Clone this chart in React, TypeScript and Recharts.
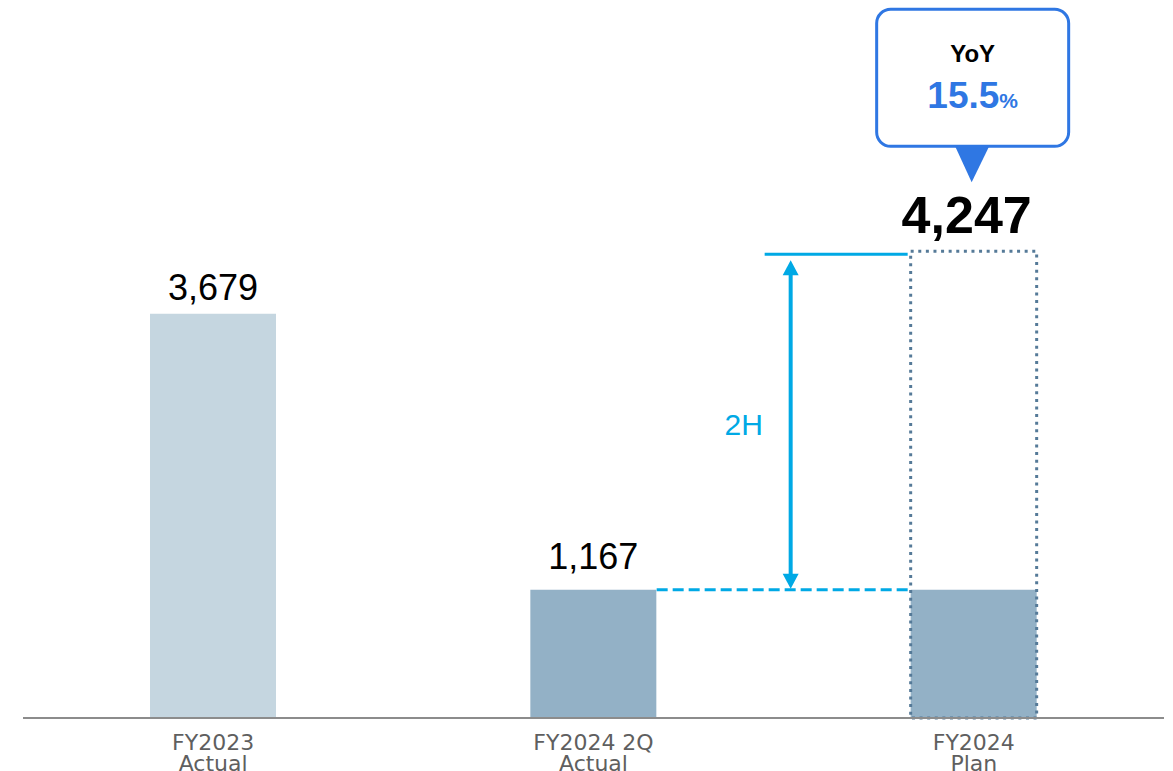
import { Bar, BarChart, Cell, LabelList, XAxis, YAxis } from "recharts"

const categories = ["FY2023|Actual", "FY2024 2Q|Actual", "FY2024|Plan"]
const resultValues = [3679, 1167, 1167]
const planValues: (number | null)[] = [null, null, 4247]
const barColors = ["#c5d6e0", "#93b1c6", "#93b1c6"]
const yoyText = "15.5"
const halfLabel = "2H"

const data = categories.map((name, i) => ({
  name,
  value: resultValues[i],
  plan: planValues[i],
}))

const W = 1173
const H = 771
const margin = { top: 18, right: 9, left: 23, bottom: 23 }
const CYAN = "#00a9e5"
const BLUE = "#2f77e3"
const NUM_FONT = "'Liberation Sans', Arial, sans-serif"

const fmt = (v: number) => new Intl.NumberFormat("en-US").format(v)

function CategoryTick({ x, y, payload }: any) {
  const [a, b] = String(payload.value).split("|")
  return (
    <g>
      <text x={x} y={y + 24} textAnchor="middle" fill="#5f5f5f" fontSize={22} fontFamily="'DejaVu Sans', sans-serif">
        {a}
      </text>
      <text x={x} y={y + 45} textAnchor="middle" fill="#5f5f5f" fontSize={22} fontFamily="'DejaVu Sans', sans-serif">
        {b}
      </text>
    </g>
  )
}

function ValueLabel({ x, y, width, value, index }: any) {
  if (index > 1) return null
  // gap between number and bar top differs a bit in the original
  const gap = index === 0 ? 14 : 21
  return (
    <text x={x + width / 2} y={y - gap} textAnchor="middle" fill="#000" fontSize={36} fontFamily={NUM_FONT}>
      {fmt(value)}
    </text>
  )
}

function PlanShape(props: any) {
  const { x, y, width, height, payload } = props
  if (payload?.plan == null || !height) return <g />
  const cx = x + width / 2
  const bottom = y + height
  const innerTop = bottom - (height * payload.value) / payload.plan
  const arrowX = x - 120
  return (
    <g>
      {/* dotted plan outline */}
      <rect
        x={x}
        y={y}
        width={width}
        height={height}
        fill="none"
        stroke="#557a98"
        strokeWidth={3}
        strokeDasharray="3 4.6"
      />
      {/* 2H bracket */}
      <line x1={x - 254} x2={x - 3} y1={innerTop} y2={innerTop} stroke={CYAN} strokeWidth={3} strokeDasharray="11 5" />
      <line x1={x - 146} x2={x - 3} y1={y + 3} y2={y + 3} stroke={CYAN} strokeWidth={3} />
      <line x1={arrowX} x2={arrowX} y1={y + 20} y2={innerTop - 12} stroke={CYAN} strokeWidth={4} />
      <polygon points={`${arrowX},${y + 9} ${arrowX - 8},${y + 24} ${arrowX + 8},${y + 24}`} fill={CYAN} />
      <polygon
        points={`${arrowX},${innerTop - 1} ${arrowX - 8},${innerTop - 16} ${arrowX + 8},${innerTop - 16}`}
        fill={CYAN}
      />
      <text x={x - 167} y={(y + innerTop) / 2 + 14} textAnchor="middle" fill={CYAN} fontSize={30} fontFamily={NUM_FONT}>
        {halfLabel}
      </text>
      {/* plan total */}
      <text x={cx - 7} y={y - 18} textAnchor="middle" fill="#000" fontSize={52} fontWeight="bold" fontFamily={NUM_FONT}>
        {fmt(payload.plan)}
      </text>
      {/* YoY callout */}
      <rect x={cx - 97} y={y - 242} width={192} height={137} rx={14} fill="#fff" stroke={BLUE} strokeWidth={3} />
      <polygon points={`${cx - 19},${y - 106} ${cx + 16},${y - 106} ${cx - 2},${y - 69}`} fill={BLUE} />
      <text x={cx - 1} y={y - 189} textAnchor="middle" fill="#000" fontSize={24} fontWeight="bold" fontFamily={NUM_FONT}>
        YoY
      </text>
      <text x={cx - 1} y={y - 143} textAnchor="middle" fontWeight="bold" fontFamily={NUM_FONT} fill={BLUE}>
        <tspan fontSize={37}>{yoyText}</tspan>
        <tspan fontSize={21}>%</tspan>
      </text>
    </g>
  )
}

export default function App() {
  return (
    <div style={{ position: "fixed", left: 0, top: 0, width: W, height: H, background: "#fff" }}>
      <BarChart width={W} height={H} data={data} margin={margin} barSize={126}>
        <XAxis
          dataKey="name"
          xAxisId="main"
          height={30}
          axisLine={{ stroke: "#8c8c8c", strokeWidth: 2 }}
          tickLine={false}
          tick={<CategoryTick />}
          interval={0}
        />
        <XAxis dataKey="name" xAxisId="plan" hide />
        <YAxis hide domain={[0, 6370]} />
        <Bar dataKey="value" xAxisId="main" isAnimationActive={false}>
          {data.map((_, i) => (
            <Cell key={i} fill={barColors[i]} />
          ))}
          <LabelList dataKey="value" content={<ValueLabel />} />
        </Bar>
        <Bar dataKey="plan" xAxisId="plan" isAnimationActive={false} shape={<PlanShape />} />
      </BarChart>
    </div>
  )
}
